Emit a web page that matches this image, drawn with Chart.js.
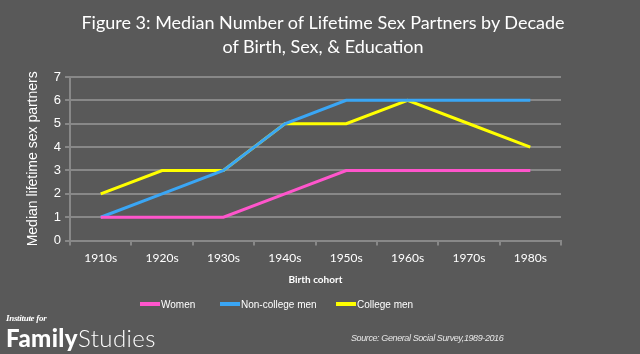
<!DOCTYPE html>
<html>
<head>
<meta charset="utf-8">
<script src="https://cdn.jsdelivr.net/npm/chart.js@4"></script>
<style>
  body { margin: 0; background: #595959; }
  #wrap { position: relative; width: 640px; height: 354px; background: #595959; overflow: hidden; }
  #myChart { position: absolute; left: 0; top: 0; }
  .title { position: absolute; left: 0; width: 646px; top: 10px; text-align: center; font: 18px Lato, sans-serif; line-height: 24px; color: #fff; }
  .logo1 { position: absolute; left: 6px; top: 313px; font: italic bold 9px "Liberation Serif", serif; color: #fff; letter-spacing: -0.3px; }
  .logo2 { position: absolute; left: 6px; top: 323px; font: 24px Lato, sans-serif; color: #fff; letter-spacing: 0.4px; line-height: 30px; }
  .logo2 b { font-weight: 900; }
  .logo2 span { font-weight: 300; }
  .source { position: absolute; left: 351px; top: 333px; font: italic 9px "Liberation Sans", Arial, sans-serif; color: #e6e6e6; letter-spacing: -0.4px; }
  .leg { position: absolute; top: 299px; font: 10px "Liberation Sans", Arial, sans-serif; color: #fff; white-space: nowrap; }
  .leg i { display: inline-block; width: 20px; height: 4px; vertical-align: middle; margin-right: 1px; position: relative; top: -1px; }
</style>
</head>
<body>
<div id="wrap">
  <canvas id="myChart" width="640" height="354"></canvas>
  <div class="title">Figure 3: Median Number of Lifetime Sex Partners by Decade<br>of Birth, Sex, &amp; Education</div>
  <div id="legend"></div>
  <div class="logo1">Institute for</div>
  <div class="logo2"><b>Family</b><span>Studies</span></div>
  <div class="source">Source: General Social Survey,1989-2016</div>
</div>
<script>
const ctx = document.getElementById('myChart');

// data
const decades = ['1910s', '1920s', '1930s', '1940s', '1950s', '1960s', '1970s', '1980s'];
const women = [1, 1, 1, 2, 3, 3, 3, 3];
const nonCollegeMen = [1, 2, 3, 5, 6, 6, 6, 6];
const collegeMen = [2, 3, 3, 5, 5, 6, 5, 4];

const seriesNames = ['Women', 'Non-college men', 'College men'];
const seriesColors = ['#ff55cc', '#3aa6f5', '#ffff00'];
const legendLeft = [140, 220, 336];

const gridColor = '#888888';

const chart = new Chart(ctx, {
  type: 'line',
  data: {
    labels: decades,
    datasets: [women, nonCollegeMen, collegeMen].map((d, i) => ({
      label: seriesNames[i],
      data: d,
      borderColor: seriesColors[i],
      backgroundColor: seriesColors[i],
      borderWidth: 3,
      pointRadius: 0,
      tension: 0
    }))
  },
  options: {
    responsive: false,
    animation: false,
    layout: { padding: { left: 25, right: 79, top: 77, bottom: 68 } },
    plugins: {
      legend: { display: false },
      tooltip: { enabled: false }
    },
    scales: {
      x: {
        offset: true,
        grid: { display: true, drawOnChartArea: false, offset: true, color: gridColor, tickLength: 5, lineWidth: 2 },
        border: { color: gridColor, width: 2 },
        ticks: { color: '#ffffff', font: { family: 'Lato', size: 12 }, padding: 5 },
        title: { display: true, text: 'Birth cohort', color: '#ffffff', font: { family: 'Lato', size: 10, weight: 'bold' }, padding: { top: 4, bottom: 0 } }
      },
      y: {
        min: 0,
        max: 7,
        grid: { color: gridColor, lineWidth: 2, tickLength: 5 },
        border: { color: gridColor, width: 2 },
        ticks: { stepSize: 1, color: '#ffffff', font: { family: 'Liberation Sans', size: 13 }, padding: 4 },
        title: { display: true, text: 'Median lifetime sex partners', color: '#ffffff', font: { family: 'Liberation Sans', size: 14 }, padding: { top: 0, bottom: 8 } }
      }
    }
  }
});

// legend below the axis title
const legendBox = document.getElementById('legend');
chart.data.datasets.forEach((ds, i) => {
  const item = document.createElement('div');
  item.className = 'leg';
  item.style.left = legendLeft[i] + 'px';
  item.innerHTML = '<i style="background:' + ds.borderColor + '"></i>' + ds.label;
  legendBox.appendChild(item);
});
</script>
</body>
</html>
